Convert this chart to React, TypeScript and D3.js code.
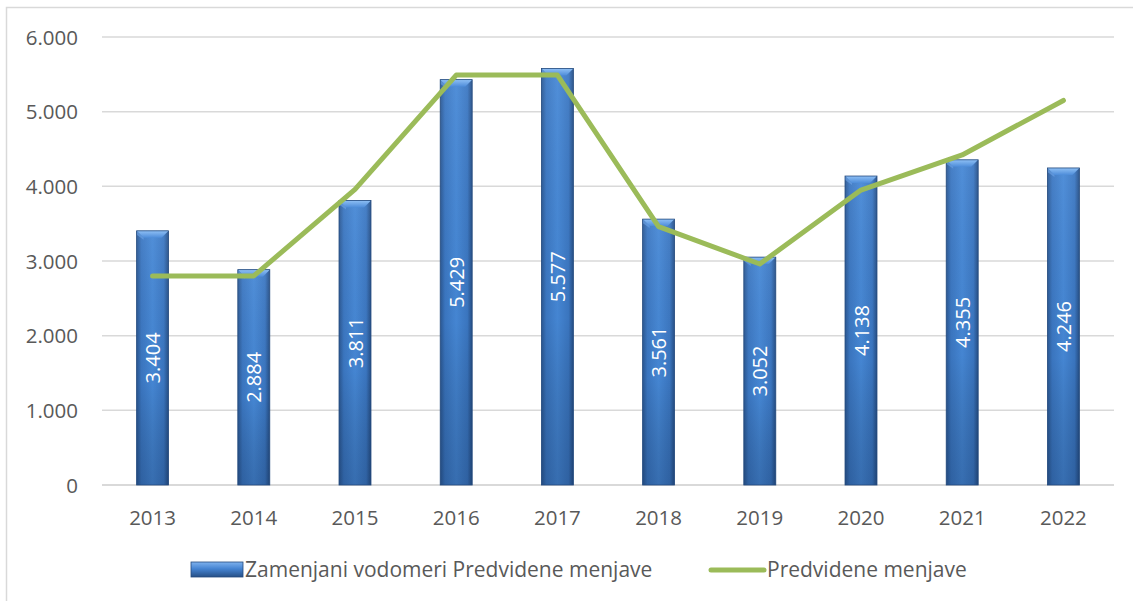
import * as d3 from "d3";

const years = ["2013", "2014", "2015", "2016", "2017", "2018", "2019", "2020", "2021", "2022"];
const zamenjani = [3404, 2884, 3811, 5429, 5577, 3561, 3052, 4138, 4355, 4246];
const predvidene = [2800, 2800, 3960, 5490, 5490, 3460, 2960, 3950, 4420, 5150];
const yTicks = [0, 1000, 2000, 3000, 4000, 5000, 6000];

const barLabel = "Zamenjani vodomeri Predvidene menjave";
const lineLabel = "Predvidene menjave";

const W = 1133;
const H = 601;
const PLOT = { left: 102, right: 1114, top: 37, bottom: 485 };
const FONT = "'Open Sans', sans-serif";
const fmt = (v: number) => (v === 0 ? "0" : d3.format(",")(v).replace(/,/g, "."));

export default function App() {
  const x = d3.scaleBand<string>().domain(years).range([PLOT.left, PLOT.right]);
  const y = d3.scaleLinear().domain([0, 6000]).range([PLOT.bottom, PLOT.top]);
  const bw = x.step() * 0.316;
  const cx = (yr: string) => (x(yr) ?? 0) + x.bandwidth() / 2;

  const line = d3
    .line<number>()
    .x((_, i) => cx(years[i]))
    .y((d) => y(d));

  const bevel = 7;

  return (
    <svg
      width={W}
      height={H}
      style={{ position: "absolute", left: 0, top: 0, background: "#fff" }}
      fontFamily={FONT}
    >
      <defs>
        <linearGradient id="barH" x1="0" x2="1" y1="0" y2="0">
          <stop offset="0%" stopColor="#2b5893" />
          <stop offset="15%" stopColor="#3b77c2" />
          <stop offset="50%" stopColor="#4688d6" />
          <stop offset="85%" stopColor="#3b77c2" />
          <stop offset="100%" stopColor="#264f86" />
        </linearGradient>
        <linearGradient id="barV" x1="0" x2="0" y1="0" y2="1">
          <stop offset="0%" stopColor="#ffffff" stopOpacity="0.06" />
          <stop offset="60%" stopColor="#000000" stopOpacity="0.02" />
          <stop offset="100%" stopColor="#0a1f40" stopOpacity="0.25" />
        </linearGradient>
        <linearGradient id="bevelTop" x1="0" x2="0" y1="0" y2="1">
          <stop offset="0%" stopColor="#8fc0f5" />
          <stop offset="100%" stopColor="#4d8cd9" />
        </linearGradient>
        <linearGradient id="legendBar" x1="0" x2="0" y1="0" y2="1">
          <stop offset="0%" stopColor="#7fb2ee" />
          <stop offset="45%" stopColor="#4584d2" />
          <stop offset="100%" stopColor="#264f86" />
        </linearGradient>
      </defs>

      {/* chart frame */}
      <rect x={6.5} y={7.5} width={W + 10} height={H + 10} fill="none" stroke="#d9d9d9" strokeWidth={1.5} />

      {/* grid */}
      {yTicks.map((t) => (
        <g key={t}>
          <line
            x1={PLOT.left}
            x2={PLOT.right}
            y1={y(t)}
            y2={y(t)}
            stroke="#d9d9d9"
            strokeWidth={t === 0 ? 2 : 1.5}
          />
          <text x={78} y={y(t) + 7.5} textAnchor="end" fontSize={20.5} fill="#595959">
            {fmt(t)}
          </text>
        </g>
      ))}

      {/* bars */}
      {zamenjani.map((v, i) => {
        const x0 = cx(years[i]) - bw / 2;
        const y0 = y(v);
        const h = PLOT.bottom - y0;
        return (
          <g key={years[i]}>
            <rect x={x0} y={y0} width={bw} height={h} fill="url(#barH)" />
            <rect x={x0} y={y0} width={bw} height={h} fill="url(#barV)" />
            <polygon
              points={`${x0},${y0} ${x0 + bw},${y0} ${x0 + bw - bevel},${y0 + bevel} ${x0 + bevel},${y0 + bevel}`}
              fill="url(#bevelTop)"
            />
            <polygon
              points={`${x0},${y0} ${x0 + bevel},${y0 + bevel} ${x0 + bevel},${y0 + bevel + 2} ${x0},${y0 + 4}`}
              fill="#6ea5e8"
              opacity={0.6}
            />
            <rect x={x0} y={y0} width={bw} height={h} fill="none" stroke="#234a7e" strokeWidth={0.8} />
          </g>
        );
      })}

      {/* line */}
      <path
        d={line(predvidene) ?? ""}
        fill="none"
        stroke="#9bbb59"
        strokeWidth={5}
        strokeLinejoin="round"
        strokeLinecap="round"
      />

      {/* bar value labels */}
      {zamenjani.map((v, i) => {
        const mx = cx(years[i]);
        const my = (y(v) + PLOT.bottom) / 2;
        return (
          <text
            key={years[i]}
            transform={`translate(${mx + 7.5},${my}) rotate(-90)`}
            textAnchor="middle"
            fontSize={20}
            fill="#ffffff"
          >
            {fmt(v)}
          </text>
        );
      })}

      {/* x labels */}
      {years.map((yr) => (
        <text key={yr} x={cx(yr)} y={525} textAnchor="middle" fontSize={20.5} fill="#595959">
          {yr}
        </text>
      ))}

      {/* legend */}
      <rect x={191} y={562} width={52} height={15} fill="url(#legendBar)" stroke="#234a7e" strokeWidth={0.8} />
      <text x={245} y={577} fontSize={21} fill="#595959">
        {barLabel}
      </text>
      <line x1={711} x2={764} y1={570} y2={570} stroke="#9bbb59" strokeWidth={5} strokeLinecap="round" />
      <text x={767} y={577} fontSize={21} fill="#595959">
        {lineLabel}
      </text>
    </svg>
  );
}
